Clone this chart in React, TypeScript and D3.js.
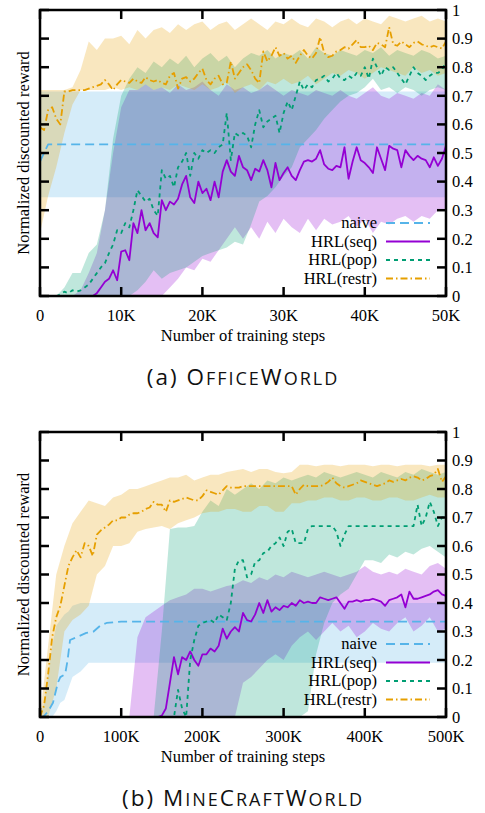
import React from 'react';
import * as d3 from 'd3';

// ---------- shared ----------
const COLORS = { naive: '#56B4E9', seq: '#9400D3', pop: '#009E73', restr: '#E69F00' };
const SERIES_KEYS = ['naive', 'seq', 'pop', 'restr'];
const SERIES_NAMES = ['naive', 'HRL(seq)', 'HRL(pop)', 'HRL(restr)'];
const DASHES = { naive: '9,5', seq: '', pop: '4,4', restr: '7,3,1.5,3' };
const Y_TICKS = [0, 0.1, 0.2, 0.3, 0.4, 0.5, 0.6, 0.7, 0.8, 0.9, 1];
const Y_TICK_LABELS = ['0', '0.1', '0.2', '0.3', '0.4', '0.5', '0.6', '0.7', '0.8', '0.9', '1'];

// ---------- (a) OfficeWorld ----------
const OFFICE_X_TICKS = [0, 10000, 20000, 30000, 40000, 50000];
const OFFICE_X_LABELS = ['0', '10K', '20K', '30K', '40K', '50K'];
const OFFICE_MEAN_X = d3.range(0, 50001, 500);
const OFFICE_BAND_X = d3.range(0, 50001, 1000);

const OFFICE_NAIVE_X = [0, 1000, 50000];
const OFFICE_NAIVE_MEAN = [0.47, 0.53, 0.53];
const OFFICE_NAIVE_BAND_X = [0, 50000];
const OFFICE_NAIVE_LO = [0.345, 0.345];
const OFFICE_NAIVE_HI = [0.715, 0.715];

const OFFICE_SEQ_MEAN = [
  0, 0, 0, 0, 0, 0, 0, 0, 0, 0, 0, 0, 0, 0,
  0.01, 0.03, 0.05, 0.06, 0.09, 0.055,
  0.155, 0.16, 0.125, 0.255, 0.22, 0.3, 0.23, 0.255, 0.22, 0.205,
  0.335, 0.3, 0.33, 0.32, 0.34, 0.39, 0.42, 0.345, 0.325, 0.4,
  0.36, 0.375, 0.335, 0.4, 0.345, 0.435, 0.475, 0.435, 0.42, 0.49,
  0.45, 0.44, 0.405, 0.445, 0.435, 0.475, 0.44, 0.38, 0.465, 0.405,
  0.43, 0.45, 0.42, 0.405, 0.44, 0.47, 0.475, 0.47, 0.48, 0.51,
  0.46, 0.445, 0.44, 0.455, 0.45, 0.52, 0.41, 0.47, 0.52, 0.475,
  0.465, 0.45, 0.43, 0.52, 0.48, 0.44, 0.525, 0.515, 0.51, 0.45,
  0.51, 0.49, 0.475, 0.49, 0.48, 0.475, 0.45, 0.485, 0.455, 0.48,
  0.525,
];
const OFFICE_POP_MEAN = [
  0, 0, 0, 0, 0,
  0.005, 0.015, 0.01, 0.02, 0.015,
  0.02, 0.03, 0.04, 0.06, 0.08, 0.1, 0.115, 0.15, 0.18, 0.23,
  0.22, 0.255, 0.24, 0.3, 0.37, 0.35, 0.33, 0.34, 0.3, 0.28,
  0.44, 0.41, 0.42, 0.38, 0.45, 0.47, 0.5, 0.42, 0.5, 0.48,
  0.51, 0.5, 0.51, 0.5, 0.52, 0.53, 0.64, 0.475, 0.57, 0.56,
  0.57, 0.56, 0.52, 0.6, 0.65, 0.59, 0.61, 0.62, 0.63, 0.57,
  0.64, 0.68, 0.65, 0.7, 0.75, 0.72, 0.74, 0.73, 0.755, 0.76,
  0.77, 0.75, 0.76, 0.78, 0.76, 0.755, 0.77, 0.76, 0.78, 0.77,
  0.8, 0.76, 0.83, 0.8, 0.77, 0.8, 0.79, 0.8, 0.78, 0.76,
  0.74, 0.77, 0.8, 0.78, 0.77, 0.755, 0.77, 0.78, 0.78, 0.79,
  0.82,
];
const OFFICE_RESTR_MEAN = [
  0.59, 0.58, 0.65, 0.66, 0.62, 0.6, 0.715, 0.715, 0.72, 0.72,
  0.72, 0.72, 0.725, 0.73, 0.735, 0.74, 0.755, 0.74, 0.72, 0.74,
  0.755, 0.75, 0.745, 0.76, 0.75, 0.745, 0.765, 0.755, 0.75, 0.755,
  0.745, 0.74, 0.77, 0.78, 0.725, 0.76, 0.765, 0.75, 0.76, 0.78,
  0.795, 0.755, 0.74, 0.76, 0.77, 0.74, 0.745, 0.82, 0.76, 0.78,
  0.8, 0.81, 0.79, 0.76, 0.745, 0.855, 0.82, 0.84, 0.87, 0.84,
  0.85, 0.83, 0.84, 0.815, 0.84, 0.86, 0.84, 0.83, 0.85, 0.905,
  0.85, 0.835, 0.84, 0.855, 0.86, 0.87, 0.865, 0.88, 0.895, 0.87,
  0.87, 0.875, 0.86, 0.885, 0.88, 0.87, 0.94, 0.88, 0.875, 0.89,
  0.88, 0.87, 0.885, 0.89, 0.88, 0.875, 0.87, 0.875, 0.87, 0.865,
  0.89,
];

const OFFICE_SEQ_LO = [
  0, 0, 0, 0, 0, 0, 0, 0, 0, 0, 0, 0, 0, 0, 0, 0,
  0.03, 0.06, 0.1, 0.09, 0.13, 0.12, 0.16, 0.2, 0.24, 0.2, 0.24, 0.2, 0.26, 0.22,
  0.27, 0.24, 0.22, 0.27, 0.23, 0.27, 0.25, 0.26, 0.28, 0.24,
  0.27, 0.22, 0.26, 0.25, 0.27, 0.28, 0.26, 0.28, 0.27, 0.3, 0.3,
];
const OFFICE_SEQ_HI = [
  0, 0, 0, 0, 0, 0.02, 0.08, 0.15, 0.3, 0.5,
  0.66, 0.72, 0.72, 0.74, 0.72, 0.73, 0.71, 0.74, 0.72, 0.73,
  0.75, 0.72, 0.7, 0.74, 0.72, 0.73, 0.71, 0.72, 0.74, 0.72,
  0.7, 0.72, 0.71, 0.7, 0.72, 0.71, 0.7, 0.72, 0.7, 0.69,
  0.71, 0.73, 0.7, 0.69, 0.71, 0.7, 0.69, 0.71, 0.7, 0.74, 0.72,
];
const OFFICE_POP_LO = [
  0, 0, 0, 0, 0, 0, 0, 0, 0, 0, 0, 0,
  0.02, 0.05, 0.09, 0.06, 0.08, 0.09, 0.1, 0.12,
  0.14, 0.15, 0.16, 0.17, 0.19, 0.18, 0.25, 0.33, 0.35, 0.38,
  0.42, 0.45, 0.52, 0.55, 0.58, 0.62, 0.65, 0.68, 0.7, 0.71,
  0.73, 0.76, 0.72, 0.73, 0.71, 0.73, 0.72, 0.7, 0.72, 0.73, 0.72,
];
const OFFICE_POP_HI = [
  0, 0, 0, 0.03, 0.08, 0.08, 0.15, 0.18, 0.3, 0.55,
  0.7, 0.76, 0.8, 0.78, 0.82, 0.8, 0.83, 0.81, 0.84, 0.8,
  0.83, 0.85, 0.82, 0.84, 0.8, 0.83, 0.85, 0.84, 0.86, 0.83,
  0.85, 0.84, 0.86, 0.83, 0.87, 0.85, 0.84, 0.86, 0.85, 0.84,
  0.86, 0.85, 0.87, 0.84, 0.86, 0.85, 0.84, 0.86, 0.85, 0.83, 0.84,
];
const OFFICE_RESTR_LO = [
  0.22, 0.35, 0.45, 0.57, 0.67, 0.72, 0.72, 0.72, 0.72, 0.73,
  0.72, 0.73, 0.72, 0.74, 0.72, 0.73, 0.72, 0.74, 0.73, 0.72,
  0.74, 0.72, 0.73, 0.75, 0.71, 0.73, 0.74, 0.72, 0.75, 0.74,
  0.76, 0.74, 0.75, 0.77, 0.74, 0.76, 0.78, 0.77, 0.79, 0.78,
  0.76, 0.78, 0.8, 0.79, 0.78, 0.77, 0.8, 0.78, 0.79, 0.77, 0.78,
];
const OFFICE_RESTR_HI = [
  0.72, 0.72, 0.72, 0.72, 0.73, 0.79, 0.89, 0.86, 0.9, 0.9,
  0.91, 0.88, 0.93, 0.9, 0.93, 0.94, 0.92, 0.95, 0.93, 0.95,
  0.96, 0.93, 0.95, 0.96, 0.93, 0.95, 0.97, 0.95, 0.93, 0.96,
  0.95, 0.97, 0.95, 0.94, 0.97, 0.96, 0.94, 0.96, 0.97, 0.95,
  0.97, 0.96, 0.95, 0.98, 0.97, 0.96, 0.97, 0.98, 0.96, 0.97, 0.96,
];

// ---------- (b) MineCraftWorld ----------
const MINE_X_TICKS = [0, 100000, 200000, 300000, 400000, 500000];
const MINE_X_LABELS = ['0', '100K', '200K', '300K', '400K', '500K'];
const MINE_MEAN_X = d3.range(0, 500001, 5000);
const MINE_BAND_X = d3.range(0, 500001, 10000);

const MINE_NAIVE_X = [0, 4000, 10000, 16000, 22000, 25000, 31000, 34000, 37000, 45000, 57000, 66000, 74000, 82000, 100000, 500000];
const MINE_NAIVE_MEAN = [0, 0, 0.02, 0.05, 0.12, 0.14, 0.15, 0.2, 0.27, 0.28, 0.295, 0.3, 0.32, 0.33, 0.335, 0.335];
const MINE_NAIVE_BAND_X = [0, 5000, 10000, 15000, 20000, 25000, 30000, 35000, 40000, 50000, 60000, 70000, 500000];
const MINE_NAIVE_LO = [0, 0, 0, 0, 0.02, 0.05, 0.06, 0.1, 0.14, 0.16, 0.19, 0.19, 0.19];
const MINE_NAIVE_HI = [0, 0.05, 0.15, 0.25, 0.32, 0.34, 0.36, 0.37, 0.39, 0.4, 0.4, 0.4, 0.4];

const MINE_SEQ_MEAN = [
  0, 0, 0, 0, 0, 0, 0, 0, 0, 0,
  0, 0, 0, 0, 0, 0, 0, 0, 0, 0,
  0, 0, 0, 0, 0, 0, 0, 0, 0, 0,
  0.005, 0.03, 0.12, 0.21, 0.15, 0.21, 0.2, 0.23, 0.2, 0.18,
  0.22, 0.22, 0.24, 0.23, 0.25, 0.31, 0.275, 0.3, 0.315, 0.3,
  0.365, 0.34, 0.335, 0.36, 0.4, 0.365, 0.41, 0.37, 0.385, 0.375,
  0.39, 0.385, 0.4, 0.39, 0.41, 0.4, 0.405, 0.4, 0.4, 0.42,
  0.415, 0.41, 0.415, 0.42, 0.4, 0.38, 0.405, 0.405, 0.41, 0.405,
  0.41, 0.41, 0.415, 0.41, 0.405, 0.39, 0.41, 0.415, 0.42, 0.43,
  0.385, 0.44, 0.415, 0.415, 0.42, 0.425, 0.43, 0.44, 0.445, 0.43,
  0.425,
];
const MINE_POP_MEAN = [
  0, 0, 0, 0, 0, 0, 0, 0, 0, 0,
  0, 0, 0, 0, 0, 0, 0, 0, 0, 0,
  0, 0, 0, 0, 0, 0, 0, 0, 0, 0,
  0, 0, 0, 0, 0.095, 0.03, 0, 0.2, 0.27, 0.32,
  0.33, 0.335, 0.34, 0.33, 0.36, 0.35, 0.34, 0.4, 0.52, 0.55,
  0.55, 0.49, 0.5, 0.545, 0.55, 0.575, 0.58, 0.6, 0.61, 0.63,
  0.6, 0.65, 0.66, 0.61, 0.61, 0.61, 0.66, 0.67, 0.67, 0.67,
  0.67, 0.67, 0.67, 0.65, 0.6, 0.64, 0.67, 0.67, 0.67, 0.67,
  0.67, 0.67, 0.67, 0.67, 0.67, 0.67, 0.67, 0.67, 0.67, 0.67,
  0.67, 0.67, 0.67, 0.745, 0.67, 0.7, 0.755, 0.72, 0.67, 0.7,
  0.7,
];
const MINE_RESTR_MEAN = [
  0, 0.04, 0.15, 0.28, 0.35, 0.39, 0.46, 0.53, 0.56, 0.585,
  0.56, 0.61, 0.6, 0.565, 0.64, 0.655, 0.665, 0.675, 0.69, 0.69,
  0.7, 0.7, 0.71, 0.715, 0.715, 0.72, 0.73, 0.735, 0.755, 0.745,
  0.745, 0.72, 0.76, 0.755, 0.76, 0.765, 0.77, 0.765, 0.76, 0.76,
  0.775, 0.795, 0.79, 0.785, 0.78, 0.795, 0.81, 0.805, 0.805, 0.805,
  0.81, 0.81, 0.81, 0.81, 0.81, 0.81, 0.81, 0.81, 0.81, 0.81,
  0.81, 0.81, 0.81, 0.78, 0.8, 0.815, 0.81, 0.81, 0.81, 0.81,
  0.815, 0.825, 0.84, 0.82, 0.81, 0.805, 0.81, 0.815, 0.82, 0.83,
  0.825, 0.82, 0.815, 0.81, 0.815, 0.82, 0.83, 0.825, 0.83, 0.835,
  0.83, 0.84, 0.845, 0.84, 0.83, 0.835, 0.845, 0.85, 0.87, 0.825,
  0.845,
];

const MINE_SEQ_LO = [
  0, 0, 0, 0, 0, 0, 0, 0, 0, 0,
  0, 0, 0, 0, 0, 0, 0, 0, 0, 0,
  0, 0, 0, 0, 0, 0.12, 0.14, 0.17, 0.2, 0.22,
  0.2, 0.25, 0.28, 0.3, 0.27, 0.3, 0.33, 0.3, 0.32, 0.28,
  0.3, 0.33, 0.31, 0.3, 0.33, 0.35, 0.3, 0.32, 0.35, 0.3, 0.31,
];
const MINE_SEQ_HI = [
  0, 0, 0, 0, 0, 0, 0, 0, 0, 0,
  0, 0, 0.28, 0.35, 0.37, 0.39, 0.41, 0.42, 0.43, 0.45,
  0.45, 0.44, 0.45, 0.46, 0.465, 0.48, 0.47, 0.49, 0.48, 0.5,
  0.49, 0.51, 0.5, 0.49, 0.5, 0.51, 0.5, 0.49, 0.5, 0.51,
  0.53, 0.51, 0.5, 0.51, 0.5, 0.52, 0.51, 0.5, 0.53, 0.54, 0.52,
];
const MINE_POP_LO = [
  0, 0, 0, 0, 0, 0, 0, 0, 0, 0,
  0, 0, 0, 0, 0, 0, 0, 0, 0, 0,
  0, 0, 0, 0, 0, 0, 0, 0, 0, 0,
  0, 0, 0, 0.02, 0.22, 0.33, 0.4, 0.43, 0.45, 0.5,
  0.55, 0.55, 0.54, 0.57, 0.56, 0.58, 0.57, 0.59, 0.6, 0.58, 0.56,
];
const MINE_POP_HI = [
  0, 0, 0, 0, 0, 0, 0, 0, 0, 0,
  0, 0, 0, 0, 0, 0.3, 0.66, 0.665, 0.665, 0.67,
  0.72, 0.76, 0.74, 0.8, 0.78, 0.8, 0.82, 0.8, 0.83, 0.82,
  0.84, 0.83, 0.84, 0.85, 0.84, 0.86, 0.85, 0.84, 0.85, 0.86,
  0.85, 0.84, 0.86, 0.85, 0.84, 0.86, 0.85, 0.87, 0.86, 0.85, 0.86,
];
const MINE_RESTR_LO = [
  0, 0, 0.1, 0.3, 0.34, 0.36, 0.39, 0.5, 0.53, 0.6,
  0.6, 0.61, 0.65, 0.66, 0.665, 0.67, 0.66, 0.68, 0.69, 0.7,
  0.715, 0.72, 0.72, 0.73, 0.73, 0.72, 0.72, 0.74, 0.74, 0.72,
  0.72, 0.75, 0.75, 0.76, 0.76, 0.77, 0.77, 0.76, 0.76, 0.77,
  0.77, 0.76, 0.76, 0.77, 0.77, 0.76, 0.76, 0.77, 0.78, 0.77, 0.77,
];
const MINE_RESTR_HI = [
  0, 0.25, 0.5, 0.6, 0.68, 0.72, 0.76, 0.75, 0.74, 0.77,
  0.78, 0.8, 0.8, 0.81, 0.82, 0.83, 0.84, 0.84, 0.85, 0.83,
  0.84, 0.85, 0.85, 0.86, 0.865, 0.87, 0.86, 0.87, 0.87, 0.86,
  0.855, 0.86, 0.885, 0.885, 0.88, 0.885, 0.885, 0.88, 0.885, 0.885,
  0.885, 0.88, 0.885, 0.885, 0.88, 0.885, 0.885, 0.885, 0.88, 0.885, 0.885,
];

// ---------- drawing ----------
const FONT = '"Liberation Serif", "Times New Roman", serif';
const CAPTION_FONT = '"Open Sans", "DejaVu Sans", sans-serif';
const PLOT_LEFT = 40;
const PLOT_RIGHT = 446;
const TICK = 9;

type Band = { key: string; x: number[]; lo: number[]; hi: number[] };
type Series = { key: string; x: number[]; y: number[] };

// Split a word into runs of capitals (full size) and lower case (small caps).
function smallCapRuns(word: string) {
  const runs: { t: string; big: boolean }[] = [];
  for (const ch of word) {
    const big = ch === ch.toUpperCase();
    const last = runs[runs.length - 1];
    if (last && last.big === big) last.t += ch;
    else runs.push({ t: ch, big });
  }
  return runs;
}

function Panel(props: {
  top: number; bottom: number; xMax: number; xTicks: number[]; xLabels: string[];
  bands: Band[]; lines: Series[]; captionY: number; captionPrefix: string; captionName: string;
}) {
  const { top, bottom, xMax, xTicks, xLabels, bands, lines, captionY, captionPrefix, captionName } = props;
  const xs = d3.scaleLinear().domain([0, xMax]).range([PLOT_LEFT, PLOT_RIGHT]);
  const ys = d3.scaleLinear().domain([0, 1]).range([bottom, top]);

  const bandPaths = bands.map((b) => {
    const area = d3.area<number>()
      .x((_, i) => xs(b.x[i]))
      .y0((_, i) => ys(b.lo[i]))
      .y1((_, i) => ys(b.hi[i]));
    return { key: b.key, d: area(b.x) || '' };
  });
  const linePaths = lines.map((s) => {
    const line = d3.line<number>().x((_, i) => xs(s.x[i])).y((_, i) => ys(s.y[i]));
    return { key: s.key, d: line(s.x) || '' };
  });

  const legendOffsets = [-73, -54.5, -36, -17.5];
  const cy = (top + bottom) / 2;

  return (
    <g>
      {bandPaths.map((b) => (
        <path key={'b' + b.key} d={b.d} fill={(COLORS as any)[b.key]} fillOpacity={0.25} stroke="none" />
      ))}
      {linePaths.map((l) => (
        <path key={'l' + l.key} d={l.d} fill="none" stroke={(COLORS as any)[l.key]} strokeWidth={1.8}
          strokeDasharray={(DASHES as any)[l.key] || undefined} strokeLinejoin="round" />
      ))}
      {/* legend */}
      {SERIES_KEYS.map((k, i) => (
        <g key={'lg' + k}>
          <text x={377} y={bottom + legendOffsets[i]} dy="0.33em" textAnchor="end" fontFamily={FONT} fontSize={16.5}>
            {SERIES_NAMES[i]}
          </text>
          <line x1={386} x2={430} y1={bottom + legendOffsets[i]} y2={bottom + legendOffsets[i]}
            stroke={(COLORS as any)[k]} strokeWidth={1.8} strokeDasharray={(DASHES as any)[k] || undefined} />
        </g>
      ))}
      {/* ticks */}
      {Y_TICKS.map((v, i) => (
        <g key={'yt' + i}>
          <line x1={PLOT_LEFT} x2={PLOT_LEFT + TICK} y1={ys(v)} y2={ys(v)} stroke="#000" strokeWidth={2.5} />
          <line x1={PLOT_RIGHT - TICK} x2={PLOT_RIGHT} y1={ys(v)} y2={ys(v)} stroke="#000" strokeWidth={2.5} />
          <text x={452} y={ys(v)} dy="0.35em" fontFamily={FONT} fontSize={16.5}>{Y_TICK_LABELS[i]}</text>
        </g>
      ))}
      {xTicks.map((v, i) => (
        <g key={'xt' + i}>
          <line x1={xs(v)} x2={xs(v)} y1={bottom} y2={bottom - TICK} stroke="#000" strokeWidth={2.5} />
          <line x1={xs(v)} x2={xs(v)} y1={top} y2={top + TICK} stroke="#000" strokeWidth={2.5} />
          <text x={xs(v)} y={bottom + 24.5} textAnchor="middle" fontFamily={FONT} fontSize={16.5}>{xLabels[i]}</text>
        </g>
      ))}
      <rect x={PLOT_LEFT} y={top} width={PLOT_RIGHT - PLOT_LEFT} height={bottom - top} fill="none" stroke="#000" strokeWidth={2.5} />
      <text x={(PLOT_LEFT + PLOT_RIGHT) / 2} y={bottom + 44.5} textAnchor="middle" fontFamily={FONT} fontSize={16.5}>
        Number of training steps
      </text>
      <text transform={`translate(29, ${cy}) rotate(-90)`} textAnchor="middle" fontFamily={FONT} fontSize={16.5}>
        Normalized discounted reward
      </text>
      <text x={243} y={captionY} textAnchor="middle" fontFamily={CAPTION_FONT} fontSize={22.5} letterSpacing={2} fill="#111">
        <tspan>{captionPrefix}</tspan>
        {smallCapRuns(captionName).map((r, i) => (
          <tspan key={i} fontSize={r.big ? 22.5 : 18}>{r.big ? r.t : r.t.toUpperCase()}</tspan>
        ))}
      </text>
    </g>
  );
}

export default function App() {
  const officeBands: Band[] = [
    { key: 'naive', x: OFFICE_NAIVE_BAND_X, lo: OFFICE_NAIVE_LO, hi: OFFICE_NAIVE_HI },
    { key: 'seq', x: OFFICE_BAND_X, lo: OFFICE_SEQ_LO, hi: OFFICE_SEQ_HI },
    { key: 'pop', x: OFFICE_BAND_X, lo: OFFICE_POP_LO, hi: OFFICE_POP_HI },
    { key: 'restr', x: OFFICE_BAND_X, lo: OFFICE_RESTR_LO, hi: OFFICE_RESTR_HI },
  ];
  const officeLines: Series[] = [
    { key: 'naive', x: OFFICE_NAIVE_X, y: OFFICE_NAIVE_MEAN },
    { key: 'seq', x: OFFICE_MEAN_X, y: OFFICE_SEQ_MEAN },
    { key: 'pop', x: OFFICE_MEAN_X, y: OFFICE_POP_MEAN },
    { key: 'restr', x: OFFICE_MEAN_X, y: OFFICE_RESTR_MEAN },
  ];
  const mineBands: Band[] = [
    { key: 'naive', x: MINE_NAIVE_BAND_X, lo: MINE_NAIVE_LO, hi: MINE_NAIVE_HI },
    { key: 'seq', x: MINE_BAND_X, lo: MINE_SEQ_LO, hi: MINE_SEQ_HI },
    { key: 'pop', x: MINE_BAND_X, lo: MINE_POP_LO, hi: MINE_POP_HI },
    { key: 'restr', x: MINE_BAND_X, lo: MINE_RESTR_LO, hi: MINE_RESTR_HI },
  ];
  const mineLines: Series[] = [
    { key: 'naive', x: MINE_NAIVE_X, y: MINE_NAIVE_MEAN },
    { key: 'seq', x: MINE_MEAN_X, y: MINE_SEQ_MEAN },
    { key: 'pop', x: MINE_MEAN_X, y: MINE_POP_MEAN },
    { key: 'restr', x: MINE_MEAN_X, y: MINE_RESTR_MEAN },
  ];
  return (
    <svg width={485} height={813} viewBox="0 0 485 813"
      style={{ position: 'absolute', left: 0, top: 0, display: 'block', background: '#fff' }}>
      <rect x={0} y={0} width={485} height={813} fill="#fff" />
      <Panel top={10} bottom={296} xMax={50000} xTicks={OFFICE_X_TICKS} xLabels={OFFICE_X_LABELS}
        bands={officeBands} lines={officeLines} captionY={385} captionPrefix="(a) " captionName="OfficeWorld" />
      <Panel top={432} bottom={717} xMax={500000} xTicks={MINE_X_TICKS} xLabels={MINE_X_LABELS}
        bands={mineBands} lines={mineLines} captionY={806} captionPrefix="(b) " captionName="MineCraftWorld" />
    </svg>
  );
}
